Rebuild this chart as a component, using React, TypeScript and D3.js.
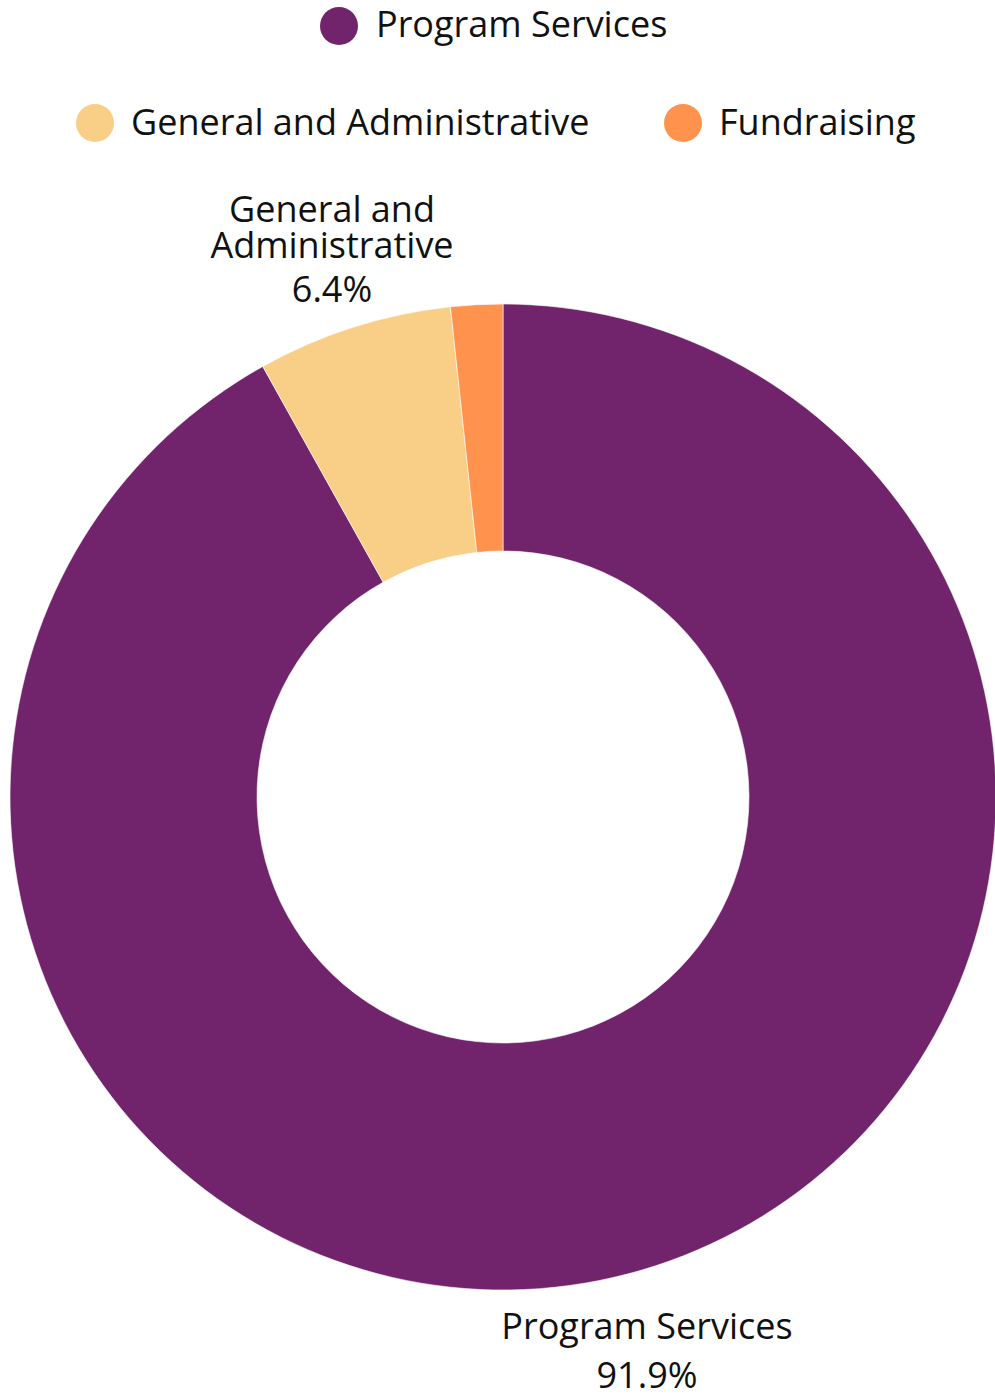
import { useMemo } from "react";
import { pie, arc, PieArcDatum } from "d3";

const categories = ["Program Services", "General and Administrative", "Fundraising"];
const values = [91.9, 6.4, 1.7];
const colors = ["#71246b", "#f9ce86", "#ff924d"];

type Slice = { name: string; value: number; color: string };

const W = 995;
const H = 1395;
const cx = 503;
const cy = 797;
const outerR = 493;
const innerR = 246;
const FONT = "'Open Sans', sans-serif";
const FS = 36;

export default function App() {
  const slices: Slice[] = categories.map((name, i) => ({
    name,
    value: values[i],
    color: colors[i],
  }));

  const arcs = useMemo(
    () =>
      pie<Slice>()
        .sort(null)
        .value((d) => d.value)(slices),
    []
  );
  const arcGen = arc<PieArcDatum<Slice>>().innerRadius(innerR).outerRadius(outerR);

  return (
    <svg
      width={W}
      height={H}
      style={{ position: "absolute", left: 0, top: 0, background: "#fff" }}
      fontFamily={FONT}
    >
      {/* Legend */}
      <g fontSize={FS} fill="#111">
        <circle cx={339} cy={26} r={19} fill={colors[0]} />
        <text x={376} y={37}>{categories[0]}</text>
        <circle cx={95} cy={123} r={19} fill={colors[1]} />
        <text x={131} y={135}>{categories[1]}</text>
        <circle cx={683} cy={123} r={19} fill={colors[2]} />
        <text x={719} y={135}>{categories[2]}</text>
      </g>

      {/* Donut */}
      <g transform={`translate(${cx},${cy})`}>
        {arcs.map((a, i) => (
          <path key={i} d={arcGen(a) ?? ""} fill={a.data.color} stroke="#fff" strokeWidth={0.6} />
        ))}
      </g>

      {/* Slice labels */}
      <g fontSize={FS} fill="#111" textAnchor="middle">
        <text x={332} y={222}>General and</text>
        <text x={332} y={258}>Administrative</text>
        <text x={332} y={302}>{`${values[1]}%`}</text>
        <text x={647} y={1339}>{categories[0]}</text>
        <text x={647} y={1388}>{`${values[0]}%`}</text>
      </g>
    </svg>
  );
}
